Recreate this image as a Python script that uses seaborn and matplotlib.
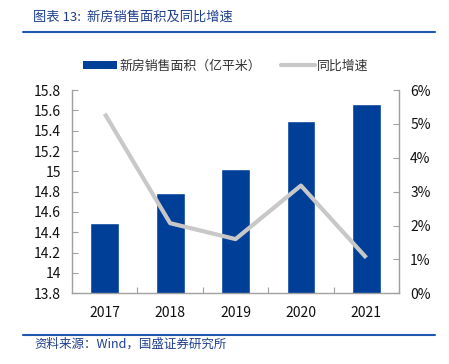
import pandas as pd
import matplotlib.pyplot as plt
import seaborn as sns
from matplotlib.lines import Line2D
from matplotlib.patches import Patch
from matplotlib.ticker import FuncFormatter

# -------------------------------
# 1. DATA
# -------------------------------
years = ['2017', '2018', '2019', '2020', '2021']
area = [14.49, 14.79, 15.02, 15.50, 15.66]      # 亿平米
growth = [5.3, 2.07, 1.6, 3.18, 1.05]           # %

df = pd.DataFrame({'year': years, 'area': area, 'growth': growth})

bar_color = '#003F98'
line_color = '#C8C8C8'
blue_text = '#1F3F8F'
rule_color = '#1F56B0'

sns.set_style('white')
plt.rcParams['font.family'] = ['Noto Sans CJK SC', 'DejaVu Sans']
plt.rcParams['axes.unicode_minus'] = False

# -------------------------------
# 2. FIGURE
# -------------------------------
fig = plt.figure(figsize=(4.49, 3.64), dpi=100)
ax = fig.add_axes([0.1604, 0.1942, 0.7283, 0.5585])

sns.barplot(data=df, x='year', y='area', color=bar_color, width=0.44,
            saturation=1, ax=ax)
ax.set_ylim(13.8, 15.8)
ax.set_xlim(-0.5, 4.5)
ax.set_yticks([13.8, 14.0, 14.2, 14.4, 14.6, 14.8, 15.0, 15.2, 15.4, 15.6, 15.8])
ax.yaxis.set_major_formatter(FuncFormatter(lambda v, p: f'{v:g}'))
ax.set_xlabel('')
ax.set_ylabel('')

ax2 = ax.twinx()
ax2.plot(range(len(years)), df['growth'], color=line_color, lw=3,
         solid_capstyle='butt')
ax2.set_ylim(0, 6)
ax2.set_yticks(range(0, 7))
ax2.yaxis.set_major_formatter(FuncFormatter(lambda v, p: f'{v:.0f}%'))
ax2.set_ylabel('')

for a in (ax, ax2):
    a.spines['top'].set_visible(False)
    for s in ['left', 'right', 'bottom']:
        a.spines[s].set_color('#A0A0A0')
        a.spines[s].set_linewidth(1)
ax.spines['right'].set_visible(False)
ax2.spines['left'].set_visible(False)
ax2.spines['bottom'].set_visible(False)

ax.tick_params(axis='y', direction='in', length=4, width=0.8, color='#A0A0A0',
               labelsize=10, pad=8, labelcolor='#111111', left=True)
ax2.tick_params(axis='y', direction='in', length=4, width=0.8, color='#A0A0A0',
                labelsize=10, pad=8, labelcolor='#111111', right=True)

# category ticks sit between the bars
ax.set_xticks(range(len(years)))
ax.set_xticklabels(years)
ax.set_xticks([0.5, 1.5, 2.5, 3.5, 4.5], minor=True)
ax.tick_params(axis='x', which='major', length=0, labelsize=10, pad=9,
               labelcolor='#111111', bottom=True)
ax.tick_params(axis='x', which='minor', direction='in', length=4, width=0.8,
               color='#A0A0A0', bottom=True)

# -------------------------------
# 3. LEGEND, TITLE, FOOTER
# -------------------------------
handles = [Patch(facecolor=bar_color, edgecolor='none'),
           Line2D([0], [0], color=line_color, lw=3)]
fig.legend(handles, ['新房销售面积（亿平米）', '同比增速'],
           loc='center', bbox_to_anchor=(0.503, 0.818), ncol=2, frameon=False,
           fontsize=9.3, handlelength=2.6, handleheight=0.6, columnspacing=1.6,
           handletextpad=0.15, labelcolor='#333333')

fig.text(0.074, 0.953, '图表 13:  新房销售面积及同比增速', fontsize=9.5,
         color=blue_text, style='italic', va='center', ha='left')
fig.add_artist(Line2D([0.051, 0.969], [0.912, 0.912], color=rule_color, lw=1.5,
                      transform=fig.transFigure))

fig.add_artist(Line2D([0.051, 0.969], [0.080, 0.080], color=rule_color, lw=1.5,
                      transform=fig.transFigure))
fig.text(0.076, 0.054, '资料来源：Wind，国盛证券研究所', fontsize=9,
         color=blue_text, style='italic', va='center', ha='left')

plt.savefig('out.png', dpi=100)
